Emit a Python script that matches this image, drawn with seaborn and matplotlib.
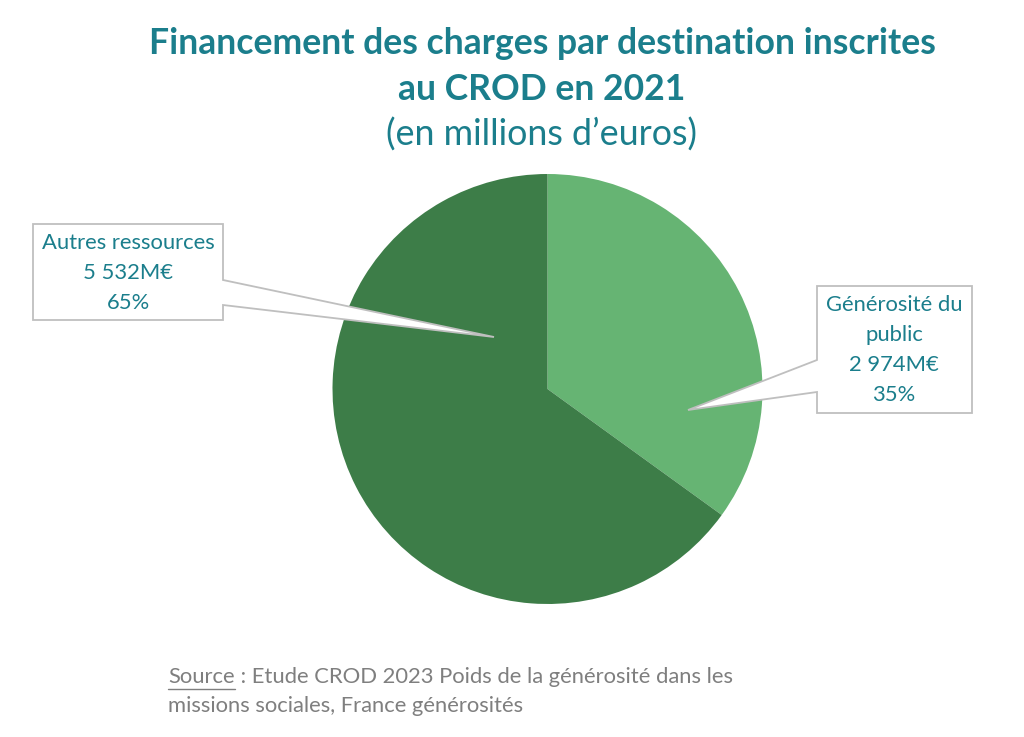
import matplotlib
matplotlib.use("Agg")
import matplotlib.pyplot as plt
from matplotlib.patches import Polygon
import seaborn as sns

# data
categories = ["Générosité du\npublic", "Autres ressources"]
amounts = [2974, 5532]            # millions d'euros
amount_labels = ["2 974M€", "5 532M€"]
shares = [35, 65]
colors = ["#66B473", "#3D7D48"]

TEAL = "#1B7E8C"
GREY = "#7F7F7F"
W, H = 1024, 737

sns.set_theme(style="white")
plt.rcParams["font.family"] = ["Lato", "DejaVu Sans"]

fig = plt.figure(figsize=(W / 100, H / 100), dpi=100)
ax = fig.add_axes([0, 0, 1, 1])
ax.axis("off")


def Y(y):
    # convert from top-origin pixel position
    return H - y


# pie
ax.pie(amounts, colors=colors, startangle=90, counterclock=False,
       center=(547.5, Y(389)), radius=215,
       wedgeprops=dict(linewidth=0))
ax.set_xlim(0, W)
ax.set_ylim(0, H)
ax.set_aspect("auto")


# callout boxes with pointer
def callout(box, p1, p2, tip, side):
    x0, y0, x1, y1 = box
    if side == "right":
        pts = [(x0, y0), (x1, y0), (x1, p1), tip, (x1, p2), (x1, y1), (x0, y1)]
    else:
        pts = [(x0, y0), (x1, y0), (x1, y1), (x0, y1), (x0, p2), tip, (x0, p1)]
    pts = [(px, Y(py)) for px, py in pts]
    ax.add_patch(Polygon(pts, closed=True, facecolor="white",
                         edgecolor="#BFBFBF", linewidth=1.3, zorder=5))


callout((33, 224, 223, 320), 280, 305, (494, 337), "right")
callout((817, 286, 972, 413), 360, 392, (688, 410), "left")

left_lines = [categories[1], amount_labels[1], f"{shares[1]}%"]
for i, t in enumerate(left_lines):
    ax.text(128, Y(243 + 30 * i), t, ha="center", va="center",
            fontsize=15.8, color=TEAL, zorder=6)

right_lines = categories[0].split("\n") + [amount_labels[0], f"{shares[0]}%"]
for i, t in enumerate(right_lines):
    ax.text(894, Y(305 + 30 * i), t, ha="center", va="center",
            fontsize=15.8, color=TEAL, zorder=6)

# titles
ax.text(542, Y(43), "Financement des charges par destination inscrites",
        ha="center", va="center", fontsize=25.6, fontweight="bold", color=TEAL)
ax.text(542, Y(89), "au CROD en 2021",
        ha="center", va="center", fontsize=25.6, fontweight="bold", color=TEAL)
ax.text(541, Y(135), "(en millions d’euros)",
        ha="center", va="center", fontsize=25.8, color=TEAL)

# source
src = ax.text(168, Y(677), "Source", ha="left", va="center",
              fontsize=15.8, color=GREY)
fig.canvas.draw()
bb = src.get_window_extent(fig.canvas.get_renderer())
ax.plot([bb.x0, bb.x1], [bb.y0 - 2, bb.y0 - 2], color=GREY, linewidth=1)
ax.text(bb.x1, Y(677), " : Etude CROD 2023 Poids de la générosité dans les",
        ha="left", va="center", fontsize=15.8, color=GREY)
ax.text(168, Y(706), "missions sociales, France générosités",
        ha="left", va="center", fontsize=15.8, color=GREY)

fig.savefig("out.png", dpi=100)
